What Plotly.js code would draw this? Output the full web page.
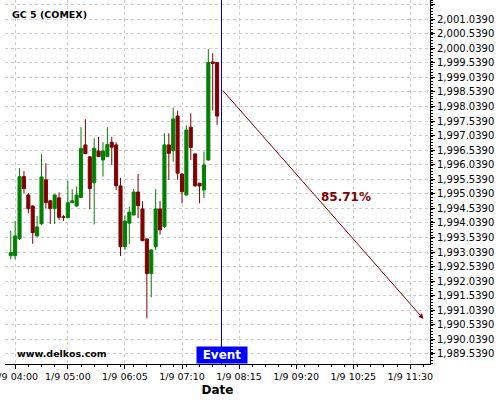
<!DOCTYPE html>
<html>
<head>
<meta charset="utf-8">
<script src="https://cdn.plot.ly/plotly-3.0.1.min.js"></script>
<style>html,body{margin:0;padding:0;background:#fff;}#chart{width:500px;height:400px;}</style>
</head>
<body>
<div id="chart"></div>
<script>
// 5-minute candles, 1/9
var times = ["2024-01-09 03:55","2024-01-09 04:00","2024-01-09 04:05","2024-01-09 04:10","2024-01-09 04:15","2024-01-09 04:20",
"2024-01-09 04:25","2024-01-09 04:30","2024-01-09 04:35","2024-01-09 04:40","2024-01-09 04:45","2024-01-09 04:50",
"2024-01-09 04:55","2024-01-09 05:00","2024-01-09 05:05","2024-01-09 05:10","2024-01-09 05:15","2024-01-09 05:20",
"2024-01-09 05:25","2024-01-09 05:30","2024-01-09 05:35","2024-01-09 05:40","2024-01-09 05:45","2024-01-09 05:50",
"2024-01-09 05:55","2024-01-09 06:00","2024-01-09 06:05","2024-01-09 06:10","2024-01-09 06:15","2024-01-09 06:20",
"2024-01-09 06:25","2024-01-09 06:30","2024-01-09 06:35","2024-01-09 06:40","2024-01-09 06:45","2024-01-09 06:50",
"2024-01-09 06:55","2024-01-09 07:00","2024-01-09 07:05","2024-01-09 07:10","2024-01-09 07:15","2024-01-09 07:20",
"2024-01-09 07:25","2024-01-09 07:30","2024-01-09 07:35","2024-01-09 07:40","2024-01-09 07:45","2024-01-09 07:50"];
var openVals = [1992.91,1992.91,1993.50,1995.63,1995.00,1994.62,1993.59,1994.01,1995.52,1994.80,1994.53,1994.90,
1994.25,1994.22,1994.74,1994.62,1994.91,1996.72,1996.31,1995.42,1996.51,1996.20,1996.32,1996.81,
1996.72,1995.31,1993.22,1994.03,1994.31,1995.10,1994.52,1993.49,1992.30,1993.22,1994.52,1993.91,
1996.72,1996.52,1997.71,1995.72,1995.00,1997.33,1996.41,1995.40,1995.17,1996.20,1999.57,1999.55];
var highVals = [1993.77,1994.10,1995.92,1995.82,1995.07,1994.64,1994.28,1996.40,1996.09,1994.83,1995.02,1995.09,
1994.31,1995.49,1995.20,1995.29,1997.33,1997.60,1996.33,1996.95,1997.00,1996.81,1997.33,1997.00,
1996.81,1995.59,1994.30,1994.60,1995.20,1995.72,1994.78,1993.50,1993.13,1995.20,1994.79,1997.12,
1997.12,1998.00,1997.90,1995.74,1997.39,1997.81,1996.43,1995.42,1996.49,2000.01,1999.87,1999.56];
var lowVals = [1992.79,1992.79,1993.45,1995.06,1994.37,1993.32,1993.57,1993.97,1994.53,1994.00,1994.00,1994.14,
1994.11,1994.20,1994.72,1994.60,1994.89,1996.40,1994.51,1993.99,1996.30,1995.63,1996.30,1996.03,
1995.17,1992.90,1993.11,1993.31,1994.30,1994.20,1993.41,1990.76,1991.48,1993.11,1993.63,1993.87,
1995.52,1996.14,1995.52,1994.71,1994.98,1996.20,1995.29,1994.71,1994.89,1996.18,1997.90,1997.41];
var closeVals = [1993.02,1993.59,1995.63,1995.22,1994.53,1993.70,1993.90,1995.62,1994.74,1994.53,1995.00,1994.23,
1994.23,1994.73,1994.80,1995.00,1996.60,1996.42,1995.22,1996.60,1996.32,1996.51,1996.73,1996.64,
1995.32,1993.22,1994.10,1994.41,1995.10,1994.63,1993.43,1992.30,1993.11,1994.52,1993.80,1996.72,
1996.43,1997.61,1995.75,1995.11,1997.23,1996.63,1995.31,1995.31,1996.03,1999.55,1999.52,1997.71];

var tickTimes = ["2024-01-09 04:00","2024-01-09 05:00","2024-01-09 06:05","2024-01-09 07:10",
"2024-01-09 08:15","2024-01-09 09:20","2024-01-09 10:25","2024-01-09 11:30"];
var tickLabels = ["1/9 04:00","1/9 05:00","1/9 06:05","1/9 07:10","1/9 08:15","1/9 09:20","1/9 10:25","1/9 11:30"];

var eventTime = "2024-01-09 07:55";
var arrowTimes = ["2024-01-09 07:55", "2024-01-09 11:45"];
var arrowValues = [1998.64, 1990.74];
var pctLabel = "85.71%";
var pctPos = ["2024-01-09 10:17", 1994.93];
var xRange = ["2024-01-09 03:48:26", "2024-01-09 11:52:26"];
var yRange = [1989.19, 2001.70];
var titleText = "GC 5 (COMEX)";
var siteText = "www.delkos.com";

var green = "#008000", red = "#800000", blue = "#0000ff";
var font = "DejaVu Sans";

var trace = {
  type: "candlestick",
  x: times, open: openVals, high: highVals, low: lowVals, close: closeVals,
  increasing: {line: {color: green, width: 1}, fillcolor: green},
  decreasing: {line: {color: red, width: 1}, fillcolor: red},
  whiskerwidth: 0,
  hoverinfo: "skip",
  showlegend: false
};

var layout = {
  width: 500, height: 400,
  margin: {l: 5, r: 70, t: 0, b: 36},
  paper_bgcolor: "#fff", plot_bgcolor: "#fff",
  boxgap: 0,
  font: {family: font, size: 10, color: "#000"},
  xaxis: {
    type: "date", range: xRange,
    rangeslider: {visible: false},
    tickmode: "array", tickvals: tickTimes, ticktext: tickLabels,
    ticklabeloverflow: "allow",
    ticks: "outside", ticklen: 4, tickcolor: "#000",
    minor: {tick0: "2024-01-09 04:00", dtick: 900000, ticks: "outside", ticklen: 2, tickcolor: "#000", showgrid: false},
    showline: true, linecolor: "#000", linewidth: 1,
    showgrid: true, gridcolor: "#cccccc", griddash: "3px,3px", gridwidth: 1,
    zeroline: false,
    tickfont: {family: font, size: 9.5, color: "#000"},
    title: {text: "Date", font: {family: font, size: 12, weight: "bold", color: "#000"}, standoff: 4}
  },
  yaxis: {
    side: "right", range: yRange,
    tick0: 1989.539, dtick: 0.5,
    tickformat: ",.4f",
    ticks: "outside", ticklen: 4, tickcolor: "#000",
    minor: {dtick: 0.1, ticks: "outside", ticklen: 2, tickcolor: "#000", showgrid: false},
    showline: true, linecolor: "#000", linewidth: 1,
    showgrid: true, gridcolor: "#cccccc", griddash: "3px,3px", gridwidth: 1,
    zeroline: false,
    tickfont: {family: font, size: 10, color: "#000"}
  },
  shapes: [
    {type: "line", xref: "x", yref: "paper", x0: eventTime, x1: eventTime, y0: 0, y1: 1,
     line: {color: "#0000cc", width: 1}}
  ],
  annotations: [
    {xref: "paper", yref: "paper", x: 0.012, y: 0.959, xanchor: "left", yanchor: "middle",
     text: titleText, showarrow: false, font: {family: font, size: 9.5, weight: "bold", color: "#000"}},
    {xref: "paper", yref: "paper", x: 0.024, y: 0.030, xanchor: "left", yanchor: "middle",
     text: siteText, showarrow: false, font: {family: font, size: 9.5, weight: "bold", color: "#000"}},
    {xref: "x", yref: "paper", x: eventTime, y: 0, xanchor: "center", yanchor: "bottom",
     text: "Event", showarrow: false, bgcolor: blue, width: 48, height: 14, borderpad: 1,
     font: {family: font, size: 12, weight: "bold", color: "#fff"}},
    {xref: "x", yref: "y", axref: "x", ayref: "y",
     x: arrowTimes[1], y: arrowValues[1], ax: arrowTimes[0], ay: arrowValues[0],
     text: "", showarrow: true, arrowhead: 2, arrowsize: 1, arrowwidth: 1, arrowcolor: red, standoff: 0, startstandoff: 0},
    {xref: "x", yref: "y", x: pctPos[0], y: pctPos[1], xanchor: "center", yanchor: "middle",
     text: pctLabel, showarrow: false, font: {family: font, size: 12, weight: "bold", color: red}}
  ]
};

Plotly.newPlot("chart", [trace], layout, {displayModeBar: false, staticPlot: true});
</script>
</body>
</html>
